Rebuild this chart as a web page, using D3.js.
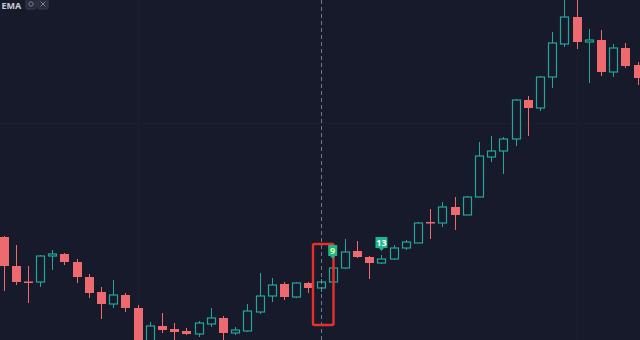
<!DOCTYPE html>
<html>
<head>
<meta charset="utf-8">
<style>
  html, body { margin: 0; padding: 0; background: #161a2b; overflow: hidden; }
  #chart { display: block; }
  .legend-name { font-family: "Noto Sans", sans-serif; font-size: 9px; font-weight: bold; fill: #c9ccd6; }
  .badge-txt { font-family: "Noto Sans", sans-serif; font-size: 9px; font-weight: bold; text-anchor: middle; }
</style>
</head>
<body>
<svg id="chart"></svg>
<script src="https://cdnjs.cloudflare.com/ajax/libs/d3/7.8.5/d3.min.js"></script>
<script>
// candle values (oldest first)
var opens  = [110.3,107.4,105.85,105.8,108.4,108.6,107.8,106.3,104.8,103.6,104.5,103.2,99.8,101.4,101.1,100.9,100.6,101.6,102.2,100.7,
              100.9,102.8,104.4,105.6,104.3,105.7,105.2,105.8,107.2,108.9,108.3,107.7,108.1,109.2,109.7,111.8,111.7,113.3,112.5,114.3,
              118.3,118.9,120.1,124.0,123.2,126.3,129.6,132.3,129.8,130.0,126.8,129.2,127.5];
var highs  = [110.4,109.5,107.4,108.5,109.0,108.7,108.1,106.6,105.3,106.0,104.7,103.5,101.8,102.7,101.7,101.2,101.9,103.2,102.4,101.3,
              103.6,106.7,106.2,105.8,105.8,105.8,106.1,108.5,110.1,109.9,108.4,108.5,109.5,110.0,111.8,113.1,113.8,114.3,114.4,119.8,
              120.4,120.3,124.1,124.4,126.4,130.8,134.5,134.5,131.1,131.0,129.6,129.7,127.8];
var lows   = [104.9,105.5,103.7,105.3,107.0,107.5,105.7,104.2,102.1,103.2,102.8,99.2,99.4,100.7,99.8,100.5,100.3,101.3,100.0,100.5,
              100.8,102.6,103.8,104.0,104.2,104.7,104.8,105.7,107.1,108.2,106.1,107.6,108.0,109.0,109.7,110.1,111.3,111.0,112.5,114.3,
              117.8,116.6,119.4,120.4,122.9,125.2,129.3,129.1,125.7,126.4,126.3,127.2,125.5];
var closes = [107.4,105.8,105.75,108.4,108.6,107.8,106.3,104.7,103.6,104.5,103.2,99.8,101.4,101.0,100.8,100.6,101.7,102.2,100.7,101.0,
              102.9,104.4,105.5,104.3,105.7,105.2,105.8,107.2,108.8,108.3,107.7,108.1,109.2,109.8,111.7,111.7,113.3,112.5,114.3,118.4,
              118.9,120.1,124.0,123.2,126.3,129.7,132.3,129.8,130.0,126.8,129.2,127.4,126.2];

var priceDomain = [100, 134];
var markedBar = 26;                 // bar under the crosshair / highlight box
var boxRange = [101.5, 109.6];      // price span of the highlight box
var signals = [{bar: 27, price: 108.4, text: "9"}, {bar: 31, price: 109.2, text: "13"}];

var W = 640, H = 340;
var up = "#26a69a", down = "#ef6a6e", bg = "#161a2b";

var svg = d3.select("#chart").attr("width", W).attr("height", H);
svg.append("rect").attr("width", W).attr("height", H).attr("fill", bg);

var idx = d3.range(opens.length);
var bars = idx.map(function(i) {
  return {i: i, o: opens[i], h: highs[i], l: lows[i], c: closes[i]};
});

var x = d3.scalePoint().domain(idx).range([3.5, 637.5]);
var y = d3.scaleLinear().domain(priceDomain).range([H, 0]);
var bw = 8;

// faint grid
var grid = svg.append("g").attr("stroke", "#1a1f31").attr("stroke-width", 1);
grid.selectAll(".hg").data([121.7]).enter().append("line")
  .attr("x1", 0).attr("x2", W)
  .attr("y1", function(d) { return Math.round(y(d)) + 0.5; })
  .attr("y2", function(d) { return Math.round(y(d)) + 0.5; });
grid.selectAll(".vg").data([11, 47]).enter().append("line")
  .attr("y1", 0).attr("y2", H)
  .attr("x1", function(d) { return Math.round(x(d)) + 0.5; })
  .attr("x2", function(d) { return Math.round(x(d)) + 0.5; });

// candles
var g = svg.append("g");
bars.forEach(function(d) {
  var cx = Math.round(x(d.i)) + 0.5;
  var isUp = d.c >= d.o;
  var col = isUp ? up : down;
  var top = y(Math.max(d.o, d.c)), bot = y(Math.min(d.o, d.c));
  if (bot - top < 1.5) { bot = top + 1.5; }
  if (isUp) {
    g.append("line").attr("x1", cx).attr("x2", cx).attr("y1", y(d.h)).attr("y2", top).attr("stroke", col);
    g.append("line").attr("x1", cx).attr("x2", cx).attr("y1", bot).attr("y2", y(d.l)).attr("stroke", col);
    g.append("rect")
      .attr("x", cx - bw / 2).attr("y", top)
      .attr("width", bw).attr("height", bot - top)
      .attr("fill", bg).attr("stroke", col).attr("stroke-width", 1.2);
  } else {
    g.append("line").attr("x1", cx).attr("x2", cx).attr("y1", y(d.h)).attr("y2", y(d.l)).attr("stroke", col);
    g.append("rect")
      .attr("x", cx - bw / 2 - 0.5).attr("y", top)
      .attr("width", bw + 1).attr("height", bot - top)
      .attr("fill", col);
  }
});

// crosshair
var mx = Math.round(x(markedBar)) + 0.5;
svg.append("line")
  .attr("x1", mx).attr("x2", mx).attr("y1", 0).attr("y2", H)
  .attr("stroke", "#8a8e9c").attr("stroke-opacity", 0.8)
  .attr("stroke-dasharray", "4,3");

// highlight box
svg.append("rect")
  .attr("x", x(markedBar) - 7.5).attr("y", y(boxRange[1]))
  .attr("width", 20.5).attr("height", y(boxRange[0]) - y(boxRange[1]))
  .attr("rx", 1.5)
  .attr("fill", "none").attr("stroke", "#e8302b").attr("stroke-width", 2.4);

// signal badges
signals.forEach(function(s) {
  var cx = x(s.bar), by = y(s.price);
  var w = s.text.length > 1 ? 12 : 9, h = 11;
  var b = svg.append("g");
  b.append("path")
    .attr("d", "M" + (cx - w / 2) + "," + (by - h) + "h" + w + "v" + h + "h" + (-(w / 2 - 2.5)) +
      "l-2.5,3l-2.5,-3h" + (-(w / 2 - 2.5)) + "z")
    .attr("fill", "#1cb58c");
  b.append("text").attr("class", "badge-txt")
    .attr("x", cx).attr("y", by - 2.3)
    .attr("fill", s.text.length > 1 ? "#ffffff" : "#e6f98e")
    .text(s.text);
});

// legend (top-left)
var lg = svg.append("g");
lg.append("text").attr("class", "legend-name").attr("x", 1.5).attr("y", 9).text("EMA");
[26, 38].forEach(function(px, k) {
  lg.append("rect").attr("x", px).attr("y", -1).attr("width", 10).attr("height", 10).attr("rx", 1.5)
    .attr("fill", "#262b3b").attr("stroke", "#3a3f50");
  if (k === 0) {
    lg.append("circle").attr("cx", px + 5).attr("cy", 4).attr("r", 2.2)
      .attr("fill", "none").attr("stroke", "#7d8292").attr("stroke-width", 1);
  } else {
    lg.append("path").attr("d", "M" + (px + 2.5) + ",1.5L" + (px + 7.5) + ",6.5M" + (px + 7.5) + ",1.5L" + (px + 2.5) + ",6.5")
      .attr("stroke", "#7d8292").attr("stroke-width", 1);
  }
});
</script>
</body>
</html>
